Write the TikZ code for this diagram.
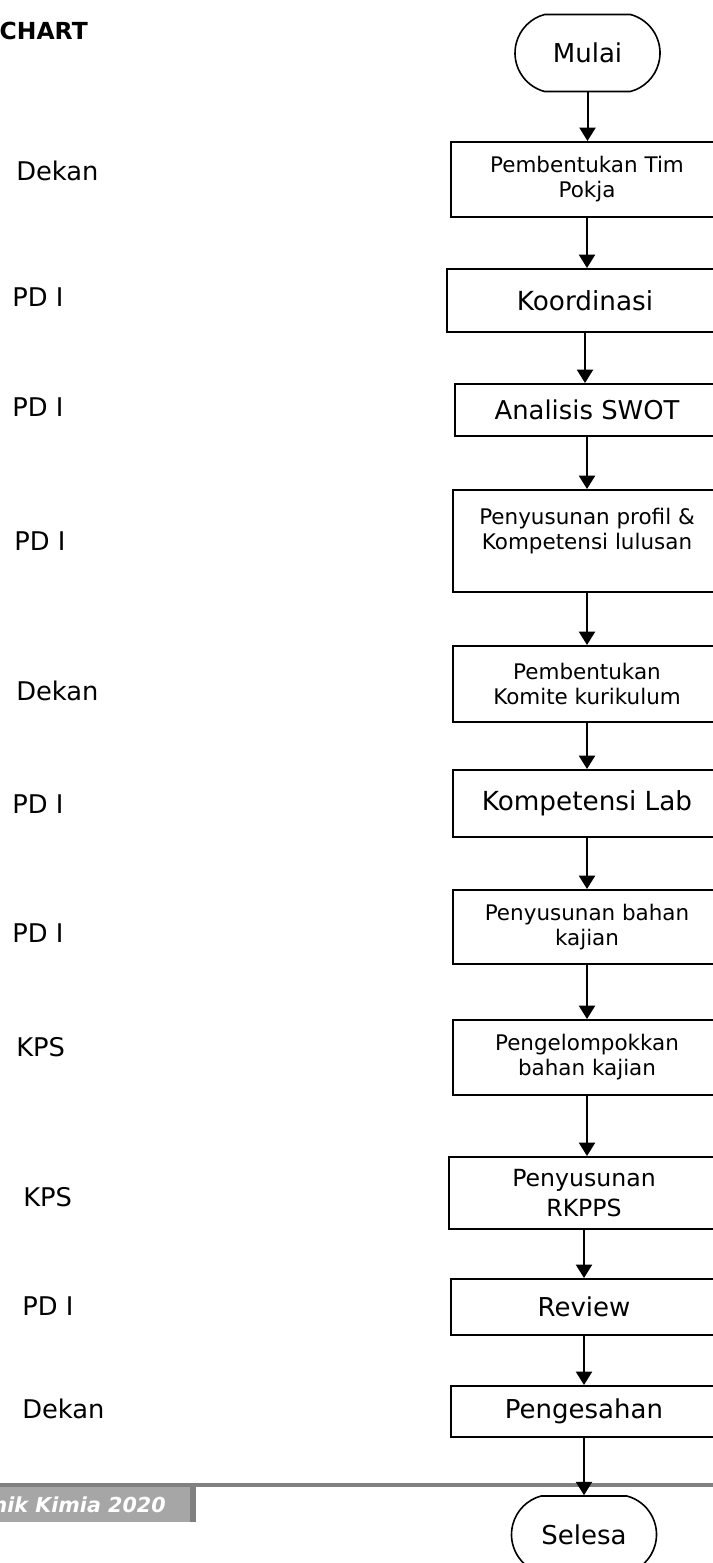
\documentclass[tikz,border=0pt]{standalone}
\usepackage{fontspec}
\setmainfont{DejaVu Sans}
\usetikzlibrary{arrows.meta,shapes.misc}
\begin{document}
\begin{tikzpicture}[x=0.75pt,y=-0.75pt,
  box/.style={draw, line width=1.5pt, inner sep=0pt, align=center},
  term/.style={draw, line width=1.2pt, rounded rectangle, rounded rectangle arc length=150,
    minimum width=108.75pt, minimum height=57.75pt, inner sep=0pt},
  big/.style={font=\fontsize{19.5}{23}\selectfont},
  small/.style={font=\fontsize{16.1}{18.75}\selectfont},
  role/.style={anchor=base west, inner sep=0pt, font=\fontsize{19.3}{23}\selectfont},
  arr/.style={line width=1.5pt, -{Triangle[width=12pt,length=10pt]}}
]
\useasboundingbox (0,0) rectangle (713,1563);
\clip (0,0) rectangle (713,1563);

% heading
\node[anchor=base east, inner sep=0pt, font=\fontsize{17.6}{20}\selectfont\bfseries] (judul) at (88,39) {CHART};

% process column
\node[term, big] (mulai) at (587.5,53) {Mulai};
\node[box, small, minimum width=204pt, minimum height=56.25pt] (b1) at (587,179.5) {Pembentukan Tim\\Pokja};
\node[box, font=\fontsize{19.7}{23}\selectfont, minimum width=207pt, minimum height=47.25pt] (b2) at (585,300.5) {Koordinasi};
\node[box, font=\fontsize{19.4}{23}\selectfont, minimum width=198pt, minimum height=39pt] (b3) at (587,410) {Analisis SWOT};
\node[box, small, minimum width=201pt, minimum height=76.5pt] (b4) at (587,541) {Penyusunan profil \&\\Kompetensi lulusan\\~};
\node[box, small, minimum width=201pt, minimum height=57pt] (b5) at (587,684) {Pembentukan\\Komite kurikulum};
\node[box, font=\fontsize{19.7}{23}\selectfont, minimum width=201pt, minimum height=50.25pt] (b6) at (587,803.5) {Kompetensi Lab};
\node[box, small, minimum width=201pt, minimum height=55.5pt] (b7) at (587,927) {Penyusunan bahan\\kajian};
\node[box, small, minimum width=201pt, minimum height=56.25pt] (b8) at (587,1057.5) {Pengelompokkan\\bahan kajian};
\node[box, font=\fontsize{17.7}{22.5}\selectfont, minimum width=202.5pt, minimum height=54pt] (b9) at (584,1193) {Penyusunan\\RKPPS};
\node[box, big, minimum width=199.5pt, minimum height=42pt] (b10) at (584,1307) {Review};
\node[box, big, minimum width=199.5pt, minimum height=38.25pt] (b11) at (584,1411.5) {Pengesahan};
\node[term, big] (selesa) at (584,1534.5) {Selesa};

% connectors
\draw[arr] (mulai.south) -- (mulai.south |- b1.north);
\draw[arr] (b1.south) -- (b1.south |- b2.north);
\draw[arr] (b2.south) -- (b2.south |- b3.north);
\draw[arr] (b3.south) -- (b3.south |- b4.north);
\draw[arr] (b4.south) -- (b4.south |- b5.north);
\draw[arr] (b5.south) -- (b5.south |- b6.north);
\draw[arr] (b6.south) -- (b6.south |- b7.north);
\draw[arr] (b7.south) -- (b7.south |- b8.north);
\draw[arr] (b8.south) -- (b8.south |- b9.north);
\draw[arr] (b9.south) -- (b9.south |- b10.north);
\draw[arr] (b10.south) -- (b10.south |- b11.north);

% responsible parties
\node[role] (r1) at (16,180) {Dekan};
\node[role] (r2) at (12,306) {PD I};
\node[role] (r3) at (12,416) {PD I};
\node[role] (r4) at (14,550) {PD I};
\node[role] (r5) at (16,700) {Dekan};
\node[role] (r6) at (12,813) {PD I};
\node[role] (r7) at (12,942) {PD I};
\node[role] (r8) at (16,1056) {KPS};
\node[role] (r9) at (23,1206) {KPS};
\node[role] (r10) at (22,1315) {PD I};
\node[role] (r11) at (22,1418) {Dekan};

% footer band
\fill[black!35] (0,1486) rectangle (190,1522);
\fill[black!50] (190,1484) rectangle (196,1522);
\draw[line width=3pt, black!50] (0,1485) -- (713,1485);
\node[anchor=base east, inner sep=0pt, text=white,
  font=\fontsize{15.5}{18}\selectfont\bfseries\itshape] (kaki) at (166,1512) {nik Kimia 2020};

% last connector drawn over the footer line
\draw[arr] (b11.south) -- (b11.south |- selesa.north);
\end{tikzpicture}
\end{document}
